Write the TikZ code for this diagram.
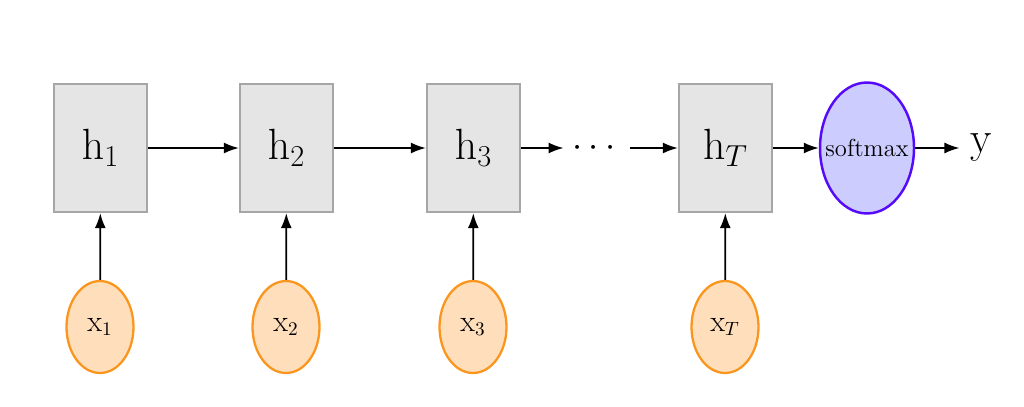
\documentclass[tikz,border=0pt]{standalone}
\usepackage{amsmath,amssymb}
\usetikzlibrary{arrows.meta,positioning,shapes.geometric}
\definecolor{softedge}{RGB}{85,10,250}
\definecolor{softfill}{RGB}{204,204,255}
\definecolor{xedge}{RGB}{250,150,30}
\definecolor{xfill}{RGB}{255,222,188}
\tikzset{
    hbox/.style={draw=black!35,fill=black!10,line width=1.3pt,minimum width=1.86cm,minimum height=2.56cm,inner sep=0pt,font=\fontsize{25}{27}\selectfont},
    xnode/.style={ellipse,draw=xedge,fill=xfill,line width=1.3pt,minimum width=1.34cm,minimum height=1.84cm,inner sep=0pt,font=\fontsize{16}{18}\selectfont},
    softnode/.style={ellipse,draw=softedge,fill=softfill,line width=1.4pt,minimum width=1.88cm,minimum height=2.62cm,inner sep=0pt,font=\fontsize{14}{16}\selectfont},
    arrow/.style={-{Latex[length=3mm,width=2.2mm]},line width=1pt}
}
\begin{document}
\begin{tikzpicture}[x=0.02cm,y=-0.02cm]
    \useasboundingbox (0,0) rectangle (1024,406);
    % hidden states
    \node[hbox] (h1) at (100.5,148) {$\mathrm{h}_1$};
    \node[hbox] (h2) at (286.5,148) {$\mathrm{h}_2$};
    \node[hbox] (h3) at (473.5,148) {$\mathrm{h}_3$};
    \node[hbox] (hT) at (725.5,148) {$\mathrm{h}_T$};
    \node[font=\huge,inner sep=5pt] (dots) at (597,148) {$\cdots$};
    \node[softnode] (soft) at (867,148) {\makebox[0pt]{softmax}};
    \node[font=\fontsize{25}{27}\selectfont,inner sep=6pt] (y) at (981,148) {y};
    % inputs
    \node[xnode] (x1) at (100,327) {$\mathrm{x}_1$};
    \node[xnode] (x2) at (286,327) {$\mathrm{x}_2$};
    \node[xnode] (x3) at (473,327) {$\mathrm{x}_3$};
    \node[xnode] (xT) at (725,327) {$\mathrm{x}_T$};
    % connectors
    \draw[arrow] (h1) -- (h2);
    \draw[arrow] (h2) -- (h3);
    \draw[arrow] (h3) -- (dots);
    \draw[arrow] (dots) -- (hT);
    \draw[arrow] (hT) -- (soft);
    \draw[arrow] (soft) -- (y);
    \draw[arrow] (x1) -- (h1);
    \draw[arrow] (x2) -- (h2);
    \draw[arrow] (x3) -- (h3);
    \draw[arrow] (xT) -- (hT);
\end{tikzpicture}
\end{document}
